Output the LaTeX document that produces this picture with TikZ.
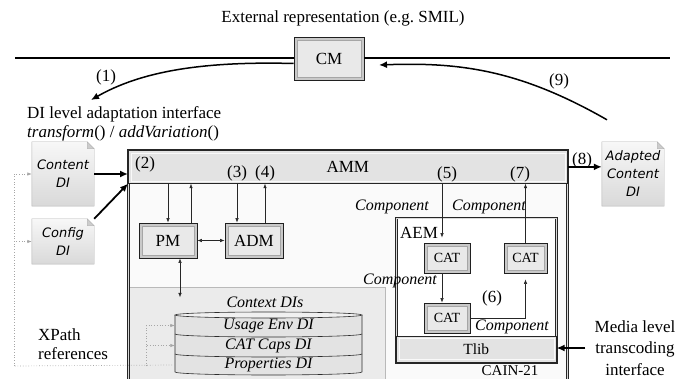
\documentclass[tikz,border=0pt]{standalone}
\usepackage{fontspec}
\setmainfont{Liberation Serif}
\newfontfamily\docfont{DejaVu Sans}[ItalicFont={DejaVu Sans Oblique}]
\usepackage{tikz}
\usetikzlibrary{arrows.meta,backgrounds,calc}

% folded sheet drawn behind a document node
\newcommand{\docshape}[1]{%
  \begin{scope}[on background layer]
    \shadedraw[top color=gray!6, bottom color=gray!30, draw=gray!60]
      (#1.north west) -- ([xshift=-7pt]#1.north east) -- ([yshift=-7pt]#1.north east)
      -- (#1.south east) -- (#1.south west) -- cycle;
    \filldraw[fill=gray!40, draw=gray!60] ([xshift=-7pt]#1.north east)
      -- ([xshift=-7pt,yshift=-7pt]#1.north east) -- ([yshift=-7pt]#1.north east) -- cycle;
  \end{scope}}

\tikzset{
  txt/.style={font=\fontsize{17}{19}\selectfont, inner sep=0pt},
  itx/.style={font=\fontsize{16}{18}\selectfont\itshape, inner sep=0pt},
  doc/.style={font=\docfont\itshape\fontsize{13}{18}\selectfont, align=center,
    minimum width=62, inner sep=1pt},
  btn/.style={txt, draw=gray!25!black, fill=gray!42, line width=0.8pt,
    path picture={\draw[gray!70, fill=gray!17]
      ([shift={(3pt,-3pt)}]path picture bounding box.north west) rectangle
      ([shift={(-3pt,3pt)}]path picture bounding box.south east);}},
  bar/.style={txt, draw=gray!30!black, fill=gray!22, line width=0.7pt,
    path picture={\draw[gray!5, line width=0.6pt]
      ([shift={(2.5pt,-2.5pt)}]path picture bounding box.north west) rectangle
      ([shift={(-2.5pt,2.5pt)}]path picture bounding box.south east);}},
  frame/.style={draw=gray!30!black, double=gray!30, double distance=1.2pt, line width=0.6pt},
  arr/.style={draw=black!85, line width=0.6pt, -{Latex[length=4.5pt,width=3.5pt]}},
  barr/.style={draw=black!85, line width=0.6pt,
    {Latex[length=4.5pt,width=3.5pt]}-{Latex[length=4.5pt,width=3.5pt]}},
  bigarr/.style={draw=black, line width=1.8pt, -{Latex[length=8pt,width=7pt]}},
  xref/.style={draw=gray!70, dotted, line width=0.7pt},
  xarr/.style={xref, -{Latex[length=4.5pt,width=3.5pt]}},
}

\begin{document}
\begin{tikzpicture}[x=1pt, y=-1pt]
  \useasboundingbox (0,0) rectangle (677,379);

  % external representation line
  \node[txt] (ext) at (343,18) {External representation (e.g.\ SMIL)};
  \node[btn, minimum width=70, minimum height=43] (cm) at (329,58.5) {CM};
  \coordinate (lnl) at (15,58.5);
  \coordinate (lnr) at (670,58.5);
  \draw[line width=2pt] (lnl) -- (cm.west);
  \draw[line width=2pt] (cm.east) -- (lnr);

  % CAIN-21 container
  \node[frame, fill=gray!4, minimum width=439, minimum height=232, anchor=north west] (cain) at (128,150) {};
  \fill[gray!16] (130,287) rectangle (385,382);
  \draw[gray!55] (130,287) -- (385,287) -- (385,382);
  \node[bar, minimum width=439, minimum height=33, anchor=north west] (amm) at (128,150) {AMM};
  \node[txt, font=\fontsize{15}{17}\selectfont] (cainlbl) at (510,370.5) {CAIN-21};

  % PM and ADM
  \node[btn, minimum width=58, minimum height=35] (pm) at (168,240.5) {PM};
  \node[btn, minimum width=58, minimum height=35] (adm) at (254,240.5) {ADM};
  \draw[arr] (pm.north |- amm.south) -- (pm.north);
  \draw[arr] ($(pm.north)+(23,0)$) -- ($(pm.north |- amm.south)+(23,0)$);
  \draw[arr] ($(adm.north |- amm.south)+(-17,0)$) -- ($(adm.north)+(-17,0)$);
  \draw[arr] ($(adm.north)+(11,0)$) -- ($(adm.north |- amm.south)+(11,0)$);
  \draw[barr] (pm.east) -- (adm.west);
  \draw[barr] ($(pm.south)+(12,0)$) -- ($(pm.south)+(12,39)$);

  % context DIs
  \node[itx] (ctxlbl) at (265,302) {Context DIs};
  \filldraw[fill=gray!22, draw=gray!35!black, line width=0.6pt] (175,315) -- (175,372)
    arc[start angle=180, end angle=360, x radius=93.5pt, y radius=3pt] -- (362,315);
  \filldraw[fill=gray!12, draw=gray!35!black, line width=0.6pt] (268.5,315) ellipse[x radius=93.5pt, y radius=3pt];
  \draw[gray!35!black, line width=0.6pt] (175,334) arc[start angle=180, end angle=360, x radius=93.5pt, y radius=3pt];
  \draw[gray!35!black, line width=0.6pt] (175,354) arc[start angle=180, end angle=360, x radius=93.5pt, y radius=3pt];
  \node[itx, minimum width=187, minimum height=20] (usage) at (268.5,325.5) {Usage Env DI};
  \node[itx, minimum width=187, minimum height=20] (catcaps) at (268.5,345.5) {CAT Caps DI};
  \node[itx, minimum width=187, minimum height=20] (props) at (268.5,365) {Properties DI};

  % input and output documents
  \node[doc, minimum height=64] (cdi) at (63,174) {Content\\DI};
  \docshape{cdi}
  \node[doc, minimum height=45] (cfg) at (63,241.5) {Config\\DI};
  \docshape{cfg}
  \node[doc, minimum height=64] (acdi) at (633,174) {Adapted\\Content\\DI};
  \docshape{acdi}
  \draw[bigarr] (cdi.east) -- (cdi.east -| amm.west);
  \draw[bigarr] (cfg.north east) -- (amm.south west);
  \draw[bigarr] (amm.east) -- (amm.east -| acdi.west);

  % XPath references
  \coordinate (xp) at (14,366);
  \coordinate (xq) at (146,366);
  \draw[xref] (props.west) -- (xp);
  \draw[xarr] (xp) |- (cdi.west);
  \draw[xarr] (xp) |- (cfg.west);
  \draw[xarr] (xq) |- (usage.west);
  \draw[xarr] (xq) |- (catcaps.west);
  \node[txt, align=left, anchor=west] (xpath) at (38,344) {XPath\\references};

  % interface text and the curved arrows
  \node[txt, align=left, anchor=north west] (ifc) at (27,106)
    {DI level adaptation interface\\\textit{transform}() / \textit{addVariation}()};
  \coordinate (c1) at (91,100);
  \draw[bigarr, line width=1.5pt] ([yshift=-5pt]cm.west) .. controls (200,61) and (140,72) .. (c1);
  \coordinate (c9) at (379,65);
  \draw[bigarr, line width=1.5pt] ($(acdi.north)+(-26,-22)$) .. controls (520,70) and (460,62) .. (c9);

  % AEM with its CATs
  \node[frame, fill=white, minimum width=160, minimum height=144, anchor=north west] (aem) at (396,218) {};
  \node[bar, font=\fontsize{15.5}{17}\selectfont, minimum width=160, minimum height=26, anchor=south] (tlib) at (aem.south) {Tlib};
  \node[txt, anchor=west] (aemlbl) at (400,233) {AEM};
  \node[btn, font=\fontsize{14}{16}\selectfont, minimum width=46, minimum height=30] (cat1) at (447,258) {CAT};
  \node[btn, font=\fontsize{14}{16}\selectfont, minimum width=43, minimum height=30] (cat2) at (525.5,258) {CAT};
  \node[btn, font=\fontsize{14}{16}\selectfont, minimum width=46, minimum height=30] (cat3) at (447,318) {CAT};
  \draw[arr, shorten >=5pt] ($(cat1.north |- amm.south)+(-5,0)$) -- ($(cat1.north)+(-5,0)$);
  \draw[arr] (cat2.north) -- (cat2.north |- amm.south);
  \draw[arr] ($(cat1.south)+(-5,0)$) -- ($(cat3.north)+(-5,0)$);
  \draw[arr, shorten >=6pt] (cat3.east) -| (cat2.south);

  % media level interface
  \node[txt, align=center, font=\fontsize{17}{21.5}\selectfont] (media) at (635,348) {Media level\\transcoding\\interface};
  \draw[bigarr, line width=1.4pt] ($(media.west)+(-9,0)$) -- ($(media.west -| tlib.east)$);

  % step labels
  \node[txt] (n1) at (106,77) {(1)};
  \node[txt] (n2) at (145,164) {(2)};
  \node[txt] (n3) at (237,173) {(3)};
  \node[txt] (n4) at (265,173) {(4)};
  \node[txt] (n5) at (447,174) {(5)};
  \node[txt] (n6) at (492,298) {(6)};
  \node[txt] (n7) at (520,174) {(7)};
  \node[txt] (n8) at (582,160) {(8)};
  \node[txt] (n9) at (559,81) {(9)};
  \node[itx] (comp1) at (392,207) {Component};
  \node[itx] (comp2) at (489,207) {Component};
  \node[itx] (comp3) at (400,281) {Component};
  \node[itx] (comp4) at (512,327) {Component};
\end{tikzpicture}
\end{document}
